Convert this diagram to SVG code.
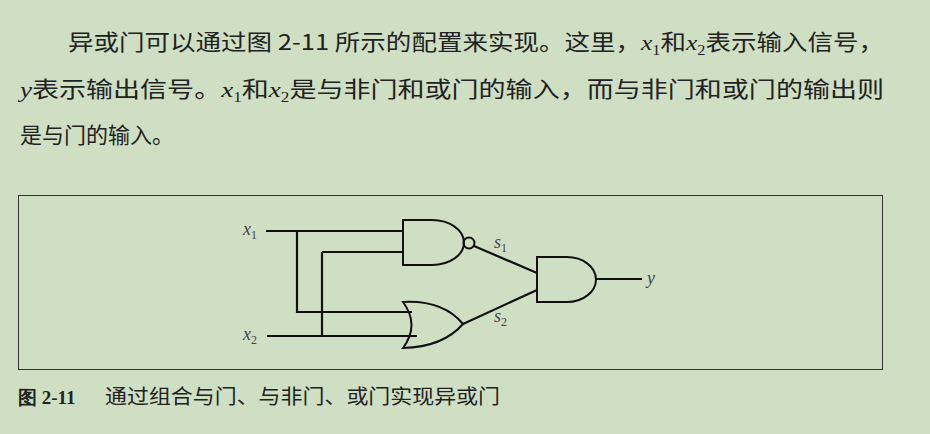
<svg xmlns="http://www.w3.org/2000/svg" width="930" height="434" viewBox="0 0 930 434">
<style>
.t{font-family:"Noto Sans CJK SC","Noto Sans",sans-serif;font-size:22px;fill:#222}
.m{font-family:"Liberation Serif",serif;font-style:italic}
.s{font-size:14px;font-family:"Liberation Serif",serif;font-style:normal}
.w{fill:none;stroke:#111;stroke-width:2.2}
.g{fill:none;stroke:#111;stroke-width:2}
.l{font-family:"Liberation Serif",serif;font-style:italic;font-size:18px;fill:#444}
.ls{font-size:12px;font-style:normal}
</style>
<rect width="930" height="434" fill="#cfdfc4"/>
<text class="t" x="68" y="50" textLength="816" lengthAdjust="spacingAndGlyphs">异或门可以通过图 2-11 所示的配置来实现。这里，<tspan class="m">x</tspan><tspan class="s" dy="5">1</tspan><tspan dy="-5">和</tspan><tspan class="m">x</tspan><tspan class="s" dy="5">2</tspan><tspan dy="-5">表示输入信号，</tspan></text>
<text class="t" x="20" y="97" textLength="864" lengthAdjust="spacingAndGlyphs"><tspan class="m">y</tspan>表示输出信号。<tspan class="m">x</tspan><tspan class="s" dy="5">1</tspan><tspan dy="-5">和</tspan><tspan class="m">x</tspan><tspan class="s" dy="5">2</tspan><tspan dy="-5">是与非门和或门的输入，而与非门和或门的输出则</tspan></text>
<text class="t" x="20" y="143">是与门的输入。</text>
<rect x="18.5" y="195.5" width="864" height="174" fill="none" stroke="#333" stroke-width="1"/>
<g id="connectors">
<path class="w" d="M266 231H403M297 231V312H412M322 252H403M322 252V336M267 336H417"/>
<path class="w" d="M474 246L537 273M463 324L537 290M596 279H642"/>
</g>
<g id="nand"><path class="g" d="M403 220H432A32 22.5 0 0 1 432 265H403Z"/><circle class="g" cx="469" cy="243" r="5.5"/></g>
<g id="or"><path class="g" d="M403 302Q443 300 463 324Q443 347 403 348Q420 325 403 302Z"/></g>
<g id="and"><path class="g" d="M537 257H567A29 22.5 0 0 1 567 302H537Z"/></g>
<text class="l" x="243" y="235">x<tspan class="ls" dy="4">1</tspan></text>
<text class="l" x="243" y="340">x<tspan class="ls" dy="4">2</tspan></text>
<text class="l" x="494" y="248">s<tspan class="ls" dy="4">1</tspan></text>
<text class="l" x="494" y="322">s<tspan class="ls" dy="4">2</tspan></text>
<text class="l" x="647" y="284">y</text>
<text x="18" y="404" font-family="Liberation Serif,serif" font-weight="bold" font-size="19" fill="#222">图 2-11</text>
<text x="105" y="404" font-family="Noto Sans CJK SC,sans-serif" font-size="20" fill="#222" textLength="395" lengthAdjust="spacingAndGlyphs">通过组合与门、与非门、或门实现异或门</text>
</svg>
